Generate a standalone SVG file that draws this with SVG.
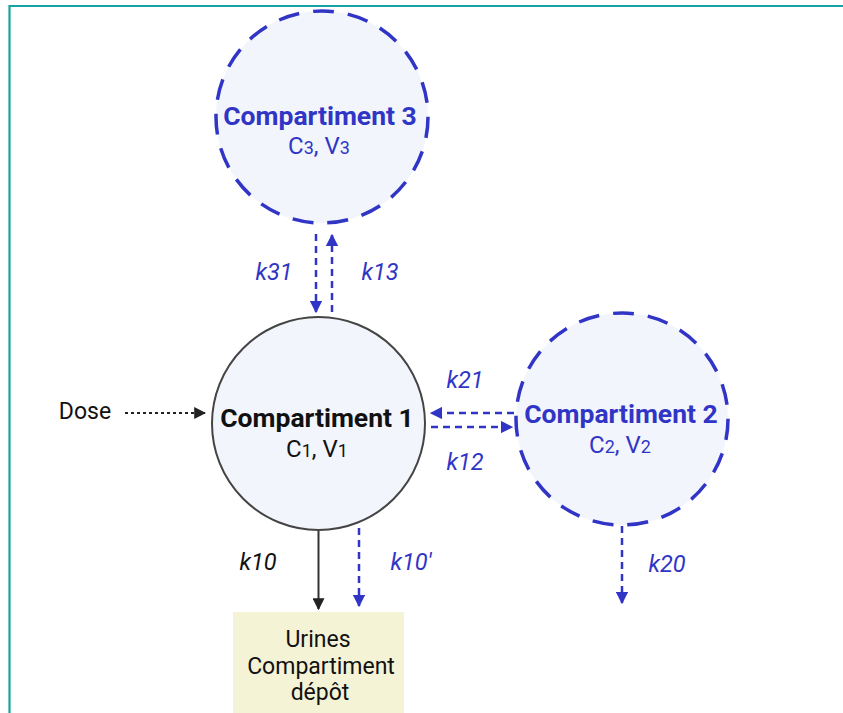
<svg xmlns="http://www.w3.org/2000/svg" width="843" height="713" viewBox="0 0 843 713">
<style>
text{font-family:Roboto,"Liberation Sans",Arial,sans-serif;text-anchor:middle}
.title{font-weight:bold;font-size:26.5px}
.sub{font-size:24px}
.blue{fill:#3135c6}
.dark{fill:#111}
.k{font-size:23.5px;font-style:italic}
.cd{fill:#f2f5fb;stroke:#3135c6;stroke-width:3.5;stroke-dasharray:21 14}
.a{fill:none;stroke:#3135c6;stroke-width:2.5;stroke-dasharray:7 5}
</style>
<defs>
<marker id="hb" viewBox="0 0 10 10" refX="9" refY="5" markerWidth="5" markerHeight="5" orient="auto" markerUnits="strokeWidth"><path d="M0,0 L10,5 L0,10 z" fill="#3135c6"/></marker>
<marker id="hk" viewBox="0 0 10 10" refX="9" refY="5" markerWidth="6" markerHeight="6" orient="auto" markerUnits="strokeWidth"><path d="M0,0 L10,5 L0,10 z" fill="#222"/></marker>
</defs>
<rect width="843" height="713" fill="#fff"/>
<path d="M9.5,713 V6 H843" fill="none" stroke="#17a3a3" stroke-width="2.2"/>
<g id="connectors">
<line class="a" x1="316" y1="234" x2="316" y2="312" marker-end="url(#hb)"/>
<line class="a" x1="332" y1="312" x2="332" y2="235" marker-end="url(#hb)"/>
<line class="a" x1="514" y1="413" x2="431" y2="413" marker-end="url(#hb)"/>
<line class="a" x1="431" y1="427" x2="512" y2="427" marker-end="url(#hb)"/>
<line class="a" x1="622" y1="526" x2="622" y2="603" marker-end="url(#hb)"/>
<line class="a" x1="359" y1="528" x2="359" y2="606" marker-end="url(#hb)"/>
<line x1="318.5" y1="530" x2="318.5" y2="609" stroke="#333" stroke-width="2" marker-end="url(#hk)"/>
<line x1="125" y1="413" x2="205" y2="413" stroke="#222" stroke-width="2" stroke-dasharray="3 3" marker-end="url(#hk)"/>
<text class="k blue" x="274" y="280">k31</text>
<text class="k blue" x="380" y="280">k13</text>
<text class="k blue" x="465" y="388">k21</text>
<text class="k blue" x="465" y="470">k12</text>
<text class="k blue" x="667" y="572">k20</text>
<text class="k blue" x="411" y="570">k10'</text>
<text class="k dark" x="258" y="570">k10</text>
</g>
<g id="compartiment3">
<circle class="cd" cx="322" cy="117" r="106"/>
<text class="title blue" x="320" y="125">Compartiment 3</text>
<text class="sub blue" x="319" y="154">C<tspan font-size="18">3</tspan>, V<tspan font-size="18">3</tspan></text>
</g>
<g id="compartiment1">
<circle cx="318.5" cy="423.5" r="106.5" fill="#f2f5fb" stroke="#444" stroke-width="2"/>
<text class="title dark" x="317" y="427">Compartiment 1</text>
<text class="sub dark" x="317" y="457">C<tspan font-size="18">1</tspan>, V<tspan font-size="18">1</tspan></text>
</g>
<g id="compartiment2">
<circle class="cd" cx="622" cy="419" r="106"/>
<text class="title blue" x="621" y="423">Compartiment 2</text>
<text class="sub blue" x="620" y="453">C<tspan font-size="18">2</tspan>, V<tspan font-size="18">2</tspan></text>
</g>
<g id="dose">
<text class="dark" x="85" y="419" font-size="23">Dose</text>
</g>
<g id="urines">
<rect x="233" y="612" width="171" height="110" fill="#f5f3d6"/>
<text class="dark" x="318" y="647" font-size="23">Urines</text>
<text class="dark" x="321" y="674" font-size="23">Compartiment</text>
<text class="dark" x="320" y="700" font-size="23">dépôt</text>
</g>
</svg>
